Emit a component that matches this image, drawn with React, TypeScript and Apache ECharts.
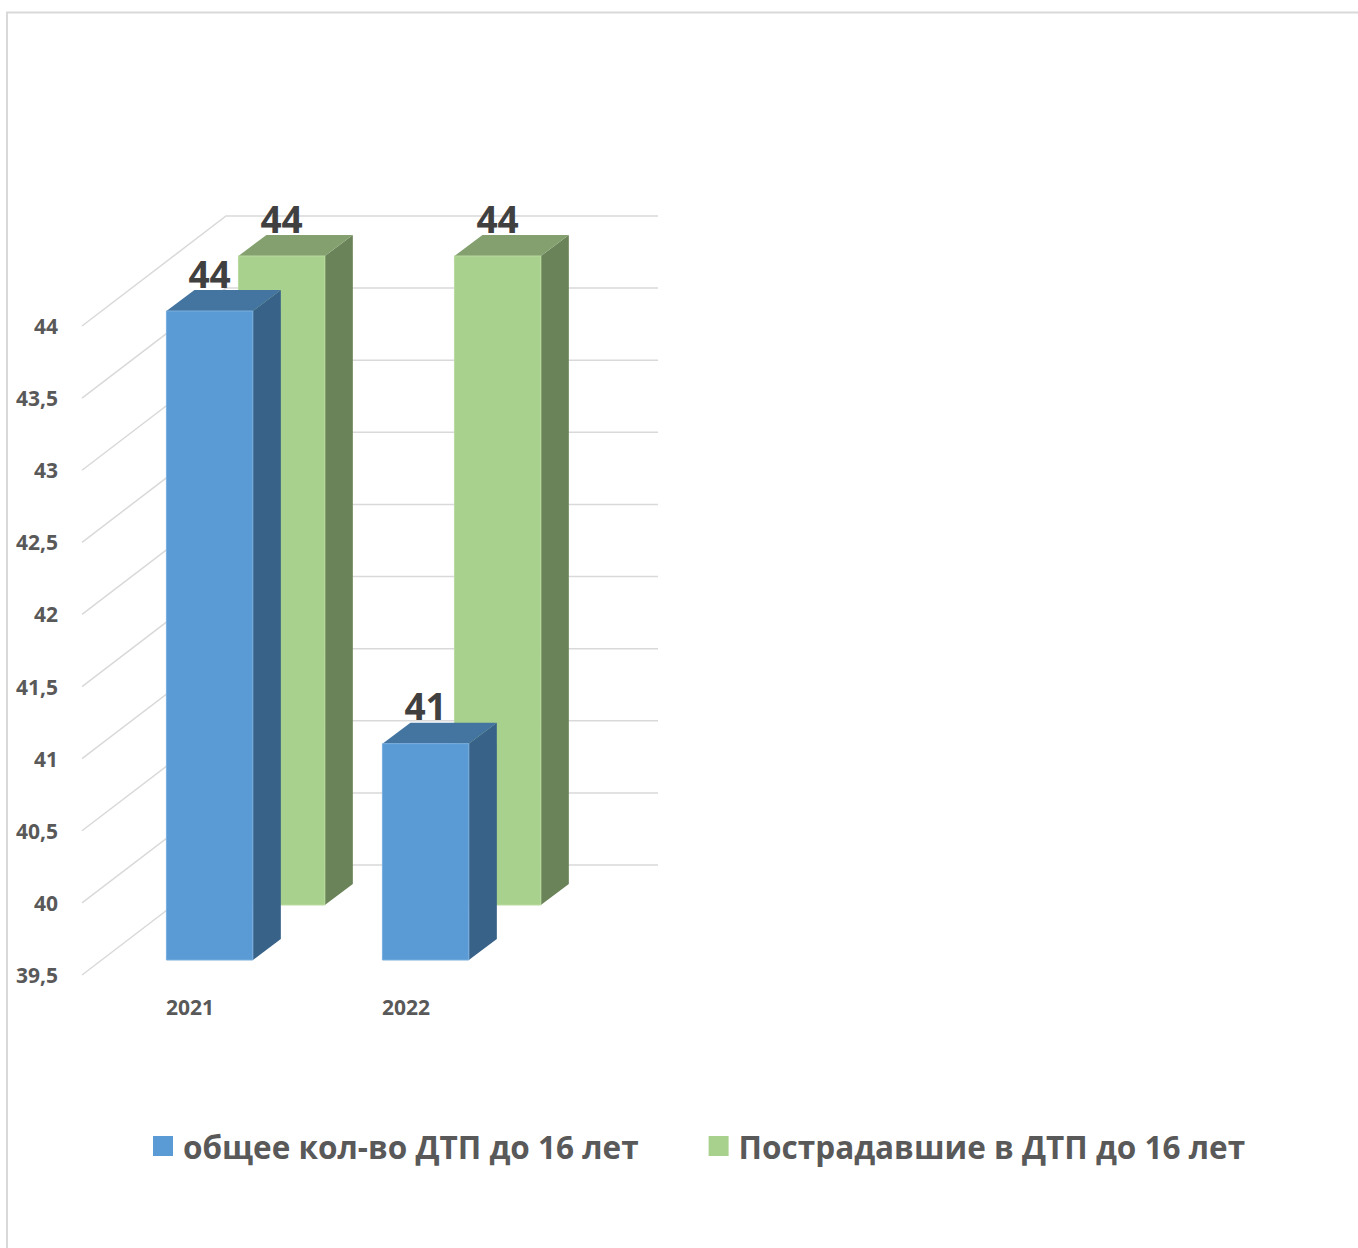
import React, { useEffect, useRef } from "react";
import * as echarts from "echarts";

const CATEGORIES = ["2021", "2022"];
const SERIES_NAMES = ["общее кол-во ДТП до 16 лет", "Пострадавшие в ДТП до 16 лет"];
const TOTAL_DTP = [44, 41];
const INJURED = [44, 44];
const Y_TICKS = [39.5, 40, 40.5, 41, 41.5, 42, 42.5, 43, 43.5, 44];

const FONT = "'Open Sans', 'Noto Sans', sans-serif";
const DEPTH_Y = 110;
const DEPTH_X = 144;
const RX = DEPTH_X / DEPTH_Y;
const BOX_DY = 21;
const BOX_DX = 28;

function makeBarRenderer(depth: number, colors: { front: string; top: string; side: string; edge: string }) {
  return (params: any, api: any) => {
    const cat = api.value(0);
    const v = api.value(1);
    const top = api.coord([cat, v]);
    const base = api.coord([cat, Y_TICKS[0]]);
    const bw = api.size([1, 0])[0] * 0.4;
    const sx = depth * RX;
    const x0 = top[0] - bw / 2 + sx;
    const x1 = x0 + bw;
    const yT = top[1] - depth;
    const yB = base[1] - depth;
    return {
      type: "group",
      children: [
        {
          type: "polygon",
          shape: { points: [[x1, yT], [x1 + BOX_DX, yT - BOX_DY], [x1 + BOX_DX, yB - BOX_DY], [x1, yB]] },
          style: { fill: colors.side },
        },
        {
          type: "polygon",
          shape: { points: [[x0, yT], [x0 + BOX_DX, yT - BOX_DY], [x1 + BOX_DX, yT - BOX_DY], [x1, yT]] },
          style: { fill: colors.top },
        },
        {
          type: "rect",
          shape: { x: x0, y: yT, width: bw, height: yB - yT },
          style: { fill: colors.front, stroke: colors.edge, lineWidth: 1 },
        },
        {
          type: "text",
          style: {
            text: String(v),
            x: (x0 + x1) / 2,
            y: yT - BOX_DY - 17,
            align: "center",
            verticalAlign: "middle",
            fontFamily: FONT,
            fontWeight: "bold",
            fontSize: 37,
            fill: "#404040",
          },
        },
      ],
    };
  };
}

export default function App() {
  const ref = useRef<HTMLDivElement>(null);
  useEffect(() => {
    if (!ref.current) return;
    const chart = echarts.init(ref.current, undefined, { renderer: "svg" });
    const gridData = Y_TICKS.map((t) => [0, t]);
    const option: any = {
      animation: false,
      backgroundColor: "#ffffff",
      textStyle: { fontFamily: FONT },
      graphic: [
        {
          type: "rect",
          shape: { x: 7, y: 12.5, width: 1400, height: 1300 },
          style: { fill: "none", stroke: "#d9d9d9", lineWidth: 2 },
          z: 0,
        },
      ],
      grid: { left: 82, top: 326, width: 432, height: 649 },
      xAxis: {
        type: "category",
        data: CATEGORIES,
        axisLine: { show: false },
        axisTick: { show: false },
        splitLine: { show: false },
        axisLabel: {
          margin: 21,
          color: "#595959",
          fontFamily: FONT,
          fontWeight: "bold",
          fontSize: 21,
        },
      },
      yAxis: {
        type: "value",
        min: Y_TICKS[0],
        max: Y_TICKS[Y_TICKS.length - 1],
        interval: 0.5,
        axisLine: { show: false },
        axisTick: { show: false },
        splitLine: { show: false },
        axisLabel: {
          margin: 24,
          color: "#595959",
          fontFamily: FONT,
          fontWeight: "bold",
          fontSize: 21,
          formatter: (v: number) => String(v).replace(".", ","),
        },
      },
      legend: {
        data: SERIES_NAMES,
        left: 148,
        top: 1125,
        icon: "rect",
        itemWidth: 20,
        itemHeight: 20,
        itemGap: 70,
        textStyle: {
          color: "#595959",
          fontFamily: FONT,
          fontWeight: "bold",
          fontSize: 31.5,
          padding: [0, 0, 0, 5],
        },
      },
      series: [
        {
          type: "custom",
          name: SERIES_NAMES[0],
          z: 4,
          itemStyle: { color: "#5B9BD5" },
          renderItem: makeBarRenderer(15, { front: "#5B9BD5", top: "#4475A0", side: "#386288", edge: "#7AAEDD" }),
          data: TOTAL_DTP.map((v, i) => [i, v]),
        },
        {
          type: "custom",
          name: SERIES_NAMES[1],
          z: 3,
          itemStyle: { color: "#A9D18E" },
          renderItem: makeBarRenderer(70, { front: "#A9D18E", top: "#83A06E", side: "#6A8359", edge: "#B8DA9F" }),
          data: INJURED.map((v, i) => [i, v]),
        },
        {
          type: "custom",
          z: 1,
          silent: true,
          renderItem: (params: any, api: any) => {
            const y = api.coord([0, api.value(1)])[1];
            const x0 = params.coordSys.x;
            const w = params.coordSys.width;
            return {
              type: "polyline",
              shape: {
                points: [
                  [x0, y],
                  [x0 + DEPTH_X, y - DEPTH_Y],
                  [x0 + DEPTH_X + w, y - DEPTH_Y],
                ],
              },
              style: { fill: "none", stroke: "#d9d9d9", lineWidth: 1.5 },
            };
          },
          data: gridData,
        },
      ],
    };
    chart.setOption(option);
    return () => chart.dispose();
  }, []);
  return (
    <div
      ref={ref}
      style={{ position: "absolute", left: 0, top: 0, width: 1358, height: 1248 }}
    />
  );
}
